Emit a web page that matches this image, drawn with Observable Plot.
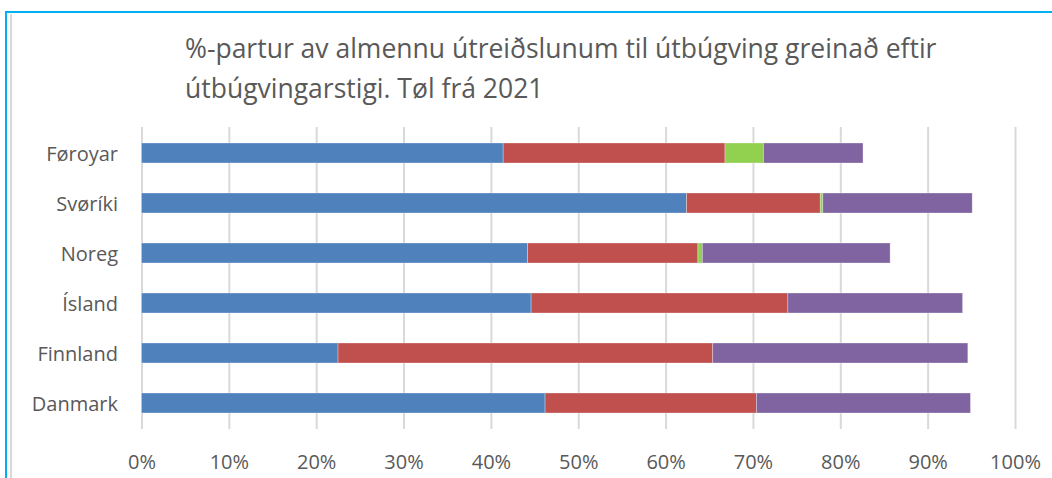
<!DOCTYPE html>
<html>
<head>
<meta charset="utf-8">
<script src="https://cdn.jsdelivr.net/npm/d3@7"></script>
<script src="https://cdn.jsdelivr.net/npm/@observablehq/plot@0.6"></script>
<style>
  body { margin: 0; background: #fff; }
  #wrap { position: relative; width: 1052px; height: 478px; overflow: hidden; font-family: "Open Sans", sans-serif; background: #fff; }
  #title { position: absolute; left: 185px; top: 28px; font-size: 26.5px; line-height: 40px; color: #595959; white-space: nowrap; }
  #chart { position: absolute; left: 0; top: 110px; }
  .line { position: absolute; }
</style>
</head>
<body>
<div id="wrap">
  <div class="line" style="left:5px;top:11px;width:1047px;height:2px;background:#00b0f0"></div>
  <div class="line" style="left:5px;top:11px;width:2px;height:467px;background:#00b0f0"></div>
  <div class="line" style="left:10px;top:14px;width:1.5px;height:464px;background:#d9d9d9"></div>
  <div id="title">%-partur av almennu útreiðslunum til útbúgving greinað eftir<br>útbúgvingarstigi. Tøl frá 2021</div>
  <div id="chart"></div>
</div>
<script>
const countries = ["Føroyar", "Svøríki", "Noreg", "Ísland", "Finnland", "Danmark"];
const levels = ["Stig 1", "Stig 2", "Stig 3", "Stig 4"];
const colors = ["#4f81bd", "#c0504d", "#92d050", "#8064a2"];
const level1 = [41.4, 62.4, 44.2, 44.6, 22.5, 46.2];
const level2 = [25.4, 15.3, 19.5, 29.4, 42.9, 24.2];
const level3 = [4.4, 0.3, 0.5, 0, 0, 0];
const level4 = [11.4, 17.1, 21.5, 20.0, 29.2, 24.5];
const xTicks = [0, 10, 20, 30, 40, 50, 60, 70, 80, 90, 100];

const series = [level1, level2, level3, level4];
const rows = [];
levels.forEach((lv, i) => {
  countries.forEach((c, j) => {
    rows.push({country: c, level: lv, value: series[i][j]});
  });
});

const chart = Plot.plot({
  width: 1052,
  height: 368,
  marginLeft: 141.5,
  marginRight: 37,
  marginTop: 17,
  marginBottom: 49,
  style: {fontFamily: "Open Sans, sans-serif", fontSize: "20px", color: "#595959", background: "transparent"},
  x: {domain: [0, 100], ticks: xTicks, tickFormat: d => d + "%", label: null},
  y: {domain: countries, paddingInner: 0.6, paddingOuter: 0.3, label: null},
  color: {domain: levels, range: colors},
  marks: [
    Plot.gridX(xTicks, {stroke: "#d9d9d9", strokeOpacity: 1, strokeWidth: 2}),
    Plot.barX(rows, Plot.stackX({y: "country", x: "value", z: "level", fill: "level", stroke: "#ffffff", strokeWidth: 0.6, strokeOpacity: 0.5})),
    Plot.axisX({ticks: xTicks, tickFormat: d => d + "%", tickSize: 0, tickPadding: 25, fontSize: 20, label: null}),
    Plot.axisY({tickSize: 0, tickPadding: 24, fontSize: 20, dy: 1, label: null})
  ]
});
document.getElementById("chart").appendChild(chart);
</script>
</body>
</html>
